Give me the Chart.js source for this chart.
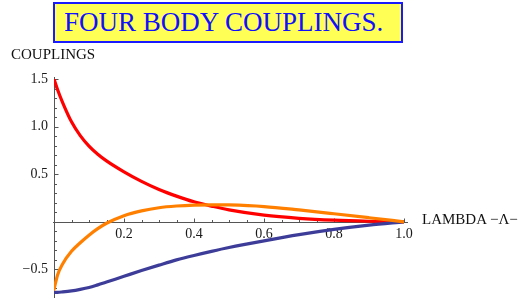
<!DOCTYPE html>
<html>
<head>
<meta charset="utf-8">
<script src="https://cdn.jsdelivr.net/npm/chart.js@4/dist/chart.umd.min.js"></script>
<style>
  html, body { margin: 0; padding: 0; background: #fff; }
  #wrap { position: relative; width: 519px; height: 303px; overflow: hidden; font-family: "Liberation Serif", "Times New Roman", serif; }
  #c { position: absolute; left: 0; top: 0; }
  .title-box { position: absolute; left: 53px; top: 2px; width: 337px; height: 37px; border: 2px solid #1a1aff; background: #ffff55; color: #1010ff; font-size: 27px; line-height: 37px; padding-left: 9px; white-space: nowrap; }
  .lbl { position: absolute; font-size: 15px; line-height: 15px; color: #111; white-space: nowrap; }
</style>
</head>
<body>
<div id="wrap">
  <canvas id="c" width="519" height="303"></canvas>
  <div class="title-box">FOUR BODY COUPLINGS.</div>
  <div class="lbl" style="left:11px; top:47px;">COUPLINGS</div>
  <div class="lbl" style="left:422px; top:212px;">LAMBDA −Λ−</div>
</div>
<script>
// ---- data ----
const lambda = [0, 0.01, 0.025, 0.05, 0.075, 0.1, 0.125, 0.15, 0.2, 0.25, 0.3, 0.35, 0.4, 0.45, 0.5, 0.6, 0.7, 0.8, 0.9, 1.0];
const redCoupling    = [1.50, 1.39, 1.25, 1.05, 0.905, 0.795, 0.71, 0.64, 0.525, 0.425, 0.34, 0.27, 0.21, 0.165, 0.125, 0.07, 0.037, 0.017, 0.006, 0];
const orangeCoupling = [-0.71, -0.56, -0.44, -0.31, -0.22, -0.14, -0.072, -0.015, 0.065, 0.115, 0.148, 0.166, 0.176, 0.179, 0.177, 0.16, 0.125, 0.085, 0.043, 0];
const blueCoupling   = [-0.74, -0.74, -0.736, -0.726, -0.71, -0.69, -0.662, -0.632, -0.572, -0.512, -0.455, -0.40, -0.353, -0.31, -0.27, -0.20, -0.135, -0.08, -0.035, 0];
const xTickValues = [0.2, 0.4, 0.6, 0.8, 1.0];
const yTickValues = [-0.5, 0.5, 1.0, 1.5];
const xMinorStep = 0.05;
const yMinorStep = 0.1;

function pts(ys) { return lambda.map((x, i) => ({x: x, y: ys[i]})); }
function fmt(v) { return v.toFixed(1).replace('-', '\u2212'); }

const axesPlugin = {
  id: 'mmaAxes',
  beforeDatasetsDraw(chart) {
    const {ctx} = chart;
    const xs = chart.scales.x, ys = chart.scales.y;
    const x0 = Math.round(xs.getPixelForValue(0)) + 0.5;
    const y0 = Math.round(ys.getPixelForValue(0)) + 0.5;
    ctx.save();
    ctx.strokeStyle = '#555';
    ctx.lineWidth = 1;
    ctx.beginPath();
    ctx.moveTo(xs.left - 1, y0); ctx.lineTo(xs.right + 4, y0);
    ctx.moveTo(x0, ys.top - 2); ctx.lineTo(x0, ys.bottom);
    ctx.stroke();
    ctx.beginPath();
    for (let k = 1; k * xMinorStep <= xs.max + 1e-9; k++) {
      const v = k * xMinorStep;
      const major = xTickValues.some(t => Math.abs(t - v) < 1e-6);
      const px = Math.round(xs.getPixelForValue(v)) + 0.5;
      ctx.moveTo(px, y0); ctx.lineTo(px, y0 - (major ? 4 : 2.5));
    }
    const kMin = Math.ceil((ys.min + 1e-9) / yMinorStep), kMax = Math.floor((ys.max + 1e-9) / yMinorStep);
    for (let k = kMin; k <= kMax; k++) {
      if (k === 0) continue;
      const v = k * yMinorStep;
      const major = yTickValues.some(t => Math.abs(t - v) < 1e-6);
      const py = Math.round(ys.getPixelForValue(v)) + 0.5;
      ctx.moveTo(x0, py); ctx.lineTo(x0 + (major ? 4 : 2.5), py);
    }
    ctx.stroke();
    ctx.restore();
  }
};

Chart.defaults.font.family = '"Liberation Serif", "Times New Roman", serif';
Chart.defaults.font.size = 14;
Chart.defaults.color = '#1a1a1a';

new Chart(document.getElementById('c'), {
  type: 'line',
  data: {
    datasets: [
      { label: 'orange', data: pts(orangeCoupling), borderColor: '#ff8000', order: 0 },
      { label: 'red',    data: pts(redCoupling),    borderColor: '#ff0000', order: 2 },
      { label: 'blue',   data: pts(blueCoupling),   borderColor: '#3d3d99', order: 1 }
    ]
  },
  options: {
    responsive: false,
    animation: false,
    devicePixelRatio: 1,
    layout: { padding: { left: 0, right: 115, top: 79, bottom: 5 } },
    elements: {
      line: { borderWidth: 3.2, cubicInterpolationMode: 'monotone', fill: false, borderCapStyle: 'round' },
      point: { radius: 0 }
    },
    plugins: { legend: { display: false }, tooltip: { enabled: false }, title: { display: false } },
    scales: {
      x: {
        type: 'linear', min: 0, max: 1, position: { y: 0 },
        grid: { display: false, drawTicks: false }, border: { display: false },
        afterFit: (s) => { s.paddingLeft = 0; s.paddingRight = 0; },
        ticks: { stepSize: 0.2, autoSkip: false, maxRotation: 0, padding: 4,
                 callback: (v) => (xTickValues.some(t => Math.abs(t - v) < 1e-6) ? fmt(v) : '') }
      },
      y: {
        type: 'linear', min: -0.8, max: 1.5,
        grid: { display: false, drawTicks: false }, border: { display: false },
        afterFit: (s) => { s.width = 54; s.paddingTop = 0; s.paddingBottom = 0; },
        ticks: { stepSize: 0.5, includeBounds: false, padding: 6,
                 callback: (v) => (yTickValues.some(t => Math.abs(t - v) < 1e-6) ? fmt(v) : '') }
      }
    }
  },
  plugins: [axesPlugin]
});
</script>
</body>
</html>
